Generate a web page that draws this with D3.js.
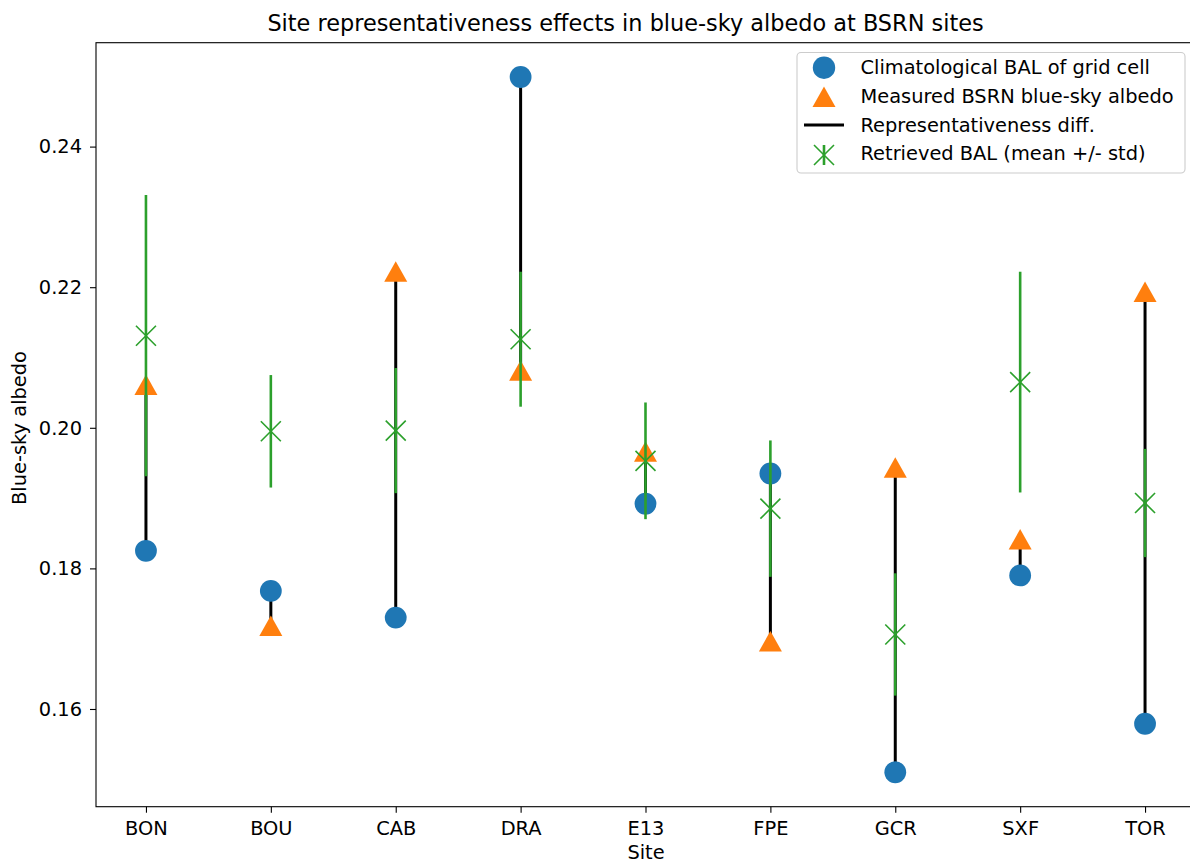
<!DOCTYPE html>
<html><head><meta charset="utf-8">
<script src="https://cdn.jsdelivr.net/npm/d3@7"></script>
<style>body{margin:0;background:#fff}svg{display:block;font-family:"DejaVu Sans",sans-serif}</style>
</head><body><svg id="c" width="1190" height="864"></svg>
<script>
const sites = ["BON","BOU","CAB","DRA","E13","FPE","GCR","SXF","TOR"];
const gridBAL = [0.1825,0.1768,0.1730,0.2499,0.1892,0.1935,0.1510,0.1790,0.1579];
const measured = [0.2061,0.1718,0.2222,0.2081,0.1966,0.1696,0.1943,0.1841,0.2193];
const retrievedMean = [0.2131,0.1995,0.1996,0.2126,0.1953,0.1885,0.1706,0.2065,0.1893];
const retrievedStd = [0.0200,0.0080,0.0089,0.0096,0.0083,0.0097,0.0087,0.0157,0.0077];
const yTicks = [0.16,0.18,0.20,0.22,0.24];
const legendLabels = ["Climatological BAL of grid cell","Measured BSRN blue-sky albedo","Representativeness diff.","Retrieved BAL (mean +/- std)"];
const colors = {blue:"#1f77b4",orange:"#ff7f0e",green:"#2ca02c",black:"#000"};

const FS = "19.4px";
const svg = d3.select("#c");
const L=96, R=1195, T=42.7, B=806.7;
const x = d3.scaleLinear().domain([-0.4, 8.4]).range([L, R]);
const y = d3.scaleLinear().domain([0.1461, 0.25478]).range([B, T]);
const idx = d3.range(sites.length);

// representativeness lines
svg.append("g").selectAll("line").data(idx).join("line")
  .attr("x1", i=>x(i)).attr("x2", i=>x(i))
  .attr("y1", i=>y(gridBAL[i])).attr("y2", i=>y(measured[i]))
  .attr("stroke", colors.black).attr("stroke-width", 3);

// circles
svg.append("g").selectAll("circle").data(idx).join("circle")
  .attr("cx", i=>x(i)).attr("cy", i=>y(gridBAL[i])).attr("r", 10.9)
  .attr("fill", colors.blue);

// triangles
const tri = (cx, cy) => `M${cx},${cy-10.5}L${cx+11.5},${cy+10}L${cx-11.5},${cy+10}Z`;
svg.append("g").selectAll("path").data(idx).join("path")
  .attr("d", i=>tri(x(i), y(measured[i]))).attr("fill", colors.orange);

// error bars
const eg = svg.append("g");
eg.selectAll("line").data(idx).join("line")
  .attr("x1", i=>x(i)).attr("x2", i=>x(i))
  .attr("y1", i=>y(retrievedMean[i]-retrievedStd[i])).attr("y2", i=>y(retrievedMean[i]+retrievedStd[i]))
  .attr("stroke", colors.green).attr("stroke-width", 2.6);
const xm = (cx, cy, s) => `M${cx-s},${cy-s}L${cx+s},${cy+s}M${cx-s},${cy+s}L${cx+s},${cy-s}`;
svg.append("g").selectAll("path").data(idx).join("path")
  .attr("d", i=>xm(x(i), y(retrievedMean[i]), 10))
  .attr("stroke", colors.green).attr("stroke-width", 1.6).attr("fill","none");

// axes
const xAxis = d3.axisBottom(x).tickValues(idx).tickFormat(i=>sites[i]).tickSize(6).tickPadding(9);
const gx = svg.append("g").attr("transform", `translate(0,${B})`).call(xAxis);
const yAxis = d3.axisLeft(y).tickValues(yTicks).tickFormat(d3.format(".2f")).tickSize(6).tickPadding(8);
const gy = svg.append("g").attr("transform", `translate(${L},0)`).call(yAxis);
[gx, gy].forEach(g=>{
  g.select(".domain").remove();
  g.selectAll(".tick line").attr("stroke","#000").attr("stroke-width",1.1);
  g.selectAll(".tick text").attr("fill","#000").style("font-size",FS).style("font-family","DejaVu Sans");
});
// spines
svg.append("rect").attr("x",L).attr("y",T).attr("width",R-L).attr("height",B-T)
  .attr("fill","none").attr("stroke","#000").attr("stroke-width",1.1);

// labels
svg.append("text").attr("x",625.5).attr("y",30.5).attr("text-anchor","middle")
  .style("font-size","22.4px").text("Site representativeness effects in blue-sky albedo at BSRN sites");
svg.append("text").attr("x",646).attr("y",859).attr("text-anchor","middle")
  .style("font-size",FS).text("Site");
svg.append("text").attr("transform","translate(25.5,428) rotate(-90)").attr("text-anchor","middle")
  .style("font-size",FS).text("Blue-sky albedo");

// legend
const lg = svg.append("g");
lg.append("rect").attr("x",797).attr("y",52.5).attr("width",388).attr("height",120.5).attr("rx",4)
  .attr("fill","#fff").attr("fill-opacity",0.8).attr("stroke","#ccc").attr("stroke-width",1.1);
const ly = [67.7, 97, 125, 155];
const mx = 824;
lg.append("circle").attr("cx",mx).attr("cy",ly[0]).attr("r",11.2).attr("fill",colors.blue);
lg.append("path").attr("d",tri(mx,ly[1])).attr("fill",colors.orange);
lg.append("line").attr("x1",mx-20).attr("x2",mx+20).attr("y1",ly[2]).attr("y2",ly[2]).attr("stroke","#000").attr("stroke-width",3);
lg.append("line").attr("x1",mx).attr("x2",mx).attr("y1",ly[3]-10).attr("y2",ly[3]+10).attr("stroke",colors.green).attr("stroke-width",2.6);
lg.append("path").attr("d",xm(mx,ly[3],10)).attr("stroke",colors.green).attr("stroke-width",1.6).attr("fill","none");
const lby = [74.3, 103.3, 131.7, 160];
lg.selectAll("text.l").data(legendLabels).join("text").attr("class","l")
  .attr("x",860.5).attr("y",(d,i)=>lby[i]).style("font-size",FS).text(d=>d);
</script></body></html>
